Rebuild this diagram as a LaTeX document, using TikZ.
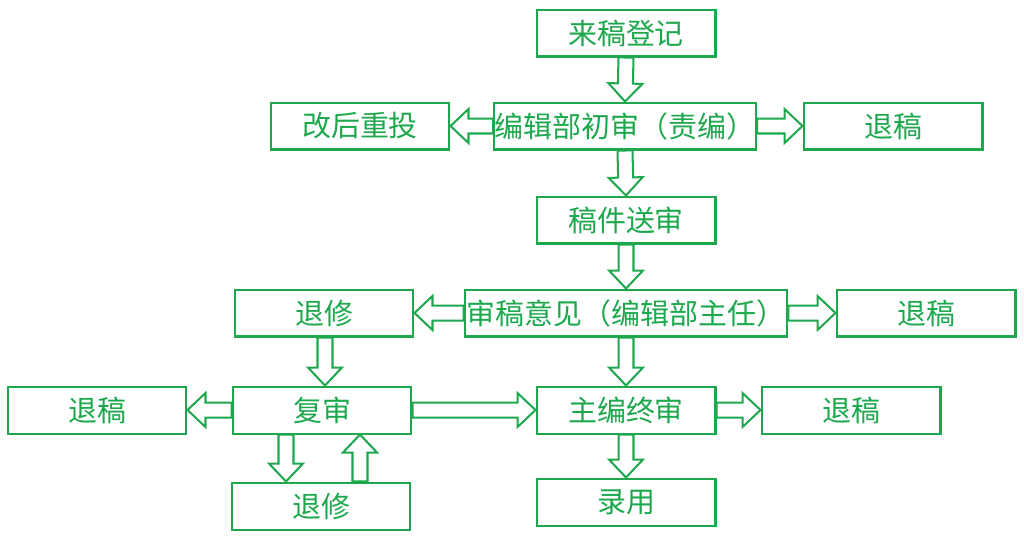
\documentclass[tikz,border=0pt]{standalone}
\usepackage{fontspec}
\setmainfont{Noto Sans CJK SC}
\usetikzlibrary{calc}
\definecolor{flowgreen}{RGB}{30,168,78}

% hollow block arrow from #1 to #2
\newcommand{\hollow}[2]{%
\path[draw,arr] ($(#1)!0.15cm!90:(#2)$) -- ($(#2)!0.36cm!(#1)!0.15cm!-90:(#1)$)
  -- ($(#2)!0.36cm!(#1)!0.34cm!-90:(#1)$) -- (#2)
  -- ($(#2)!0.36cm!(#1)!0.34cm!90:(#1)$) -- ($(#2)!0.36cm!(#1)!0.15cm!90:(#1)$)
  -- ($(#1)!0.15cm!-90:(#2)$) -- cycle;}

\tikzset{
  box/.style={draw=flowgreen, line width=1.15pt, text=flowgreen, inner sep=0pt,
    minimum width=3.58cm, minimum height=0.94cm, font=\fontsize{16.5}{18}\selectfont},
  arr/.style={draw=flowgreen, line width=1.15pt, line join=miter}
}

\begin{document}
\begin{tikzpicture}[x=0.02cm,y=-0.02cm]
\useasboundingbox (0,0) rectangle (1024,539);

\node[box] (laigao) at (626,33) {来稿登记};
\node[box, minimum width=5.24cm] (chushen) at (625,126) {编辑部初审（责编）};
\node[box] (chongtou) at (360,126) {改后重投};
\node[box] (tuigao1) at (893,126) {退稿};
\node[box] (songshen) at (626,220) {稿件送审};
\node[box, minimum width=6.46cm] (yijian) at (626,313) {审稿意见（编辑部主任）};
\node[box] (tuixiu1) at (324,313) {退修};
\node[box] (tuigao2) at (926,313) {退稿};
\node[box] (fushen) at (322,410) {复审};
\node[box] (tuigao3) at (97,410) {退稿};
\node[box] (zhongshen) at (626,410) {主编终审};
\node[box] (tuigao4) at (851,410) {退稿};
\node[box] (tuixiu2) at (321,506) {退修};
\node[box] (luyong) at (626,502) {录用};

\coordinate (d1) at ($(fushen.south)+(-36,0)$);
\coordinate (d2) at ($(tuixiu2.north)+(-35,0)$);
\coordinate (u1) at ($(tuixiu2.north)+(39,0)$);
\coordinate (u2) at ($(fushen.south)+(38,0)$);
\coordinate (t1) at ($(tuixiu1.south)+(1,0)$);
\coordinate (t2) at ($(fushen.north)+(3,0)$);

\hollow{laigao.south}{chushen.north}
\hollow{chushen.west}{chongtou.east}
\hollow{chushen.east}{tuigao1.west}
\hollow{chushen.south}{songshen.north}
\hollow{songshen.south}{yijian.north}
\hollow{yijian.west}{tuixiu1.east}
\hollow{yijian.east}{tuigao2.west}
\hollow{yijian.south}{zhongshen.north}
\hollow{t1}{t2}
\hollow{fushen.west}{tuigao3.east}
\hollow{fushen.east}{zhongshen.west}
\hollow{zhongshen.east}{tuigao4.west}
\hollow{zhongshen.south}{luyong.north}
\hollow{d1}{d2}
\hollow{u1}{u2}
\end{tikzpicture}
\end{document}
